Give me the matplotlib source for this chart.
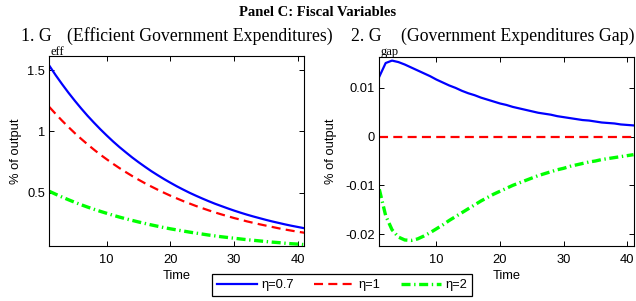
import matplotlib
matplotlib.use("Agg")
import matplotlib.pyplot as plt

plt.rcParams['axes.unicode_minus'] = False
plt.rcParams['lines.scale_dashes'] = False

time = list(range(1, 42))

geff_07 = [1.538, 1.460, 1.387, 1.317, 1.251, 1.188, 1.128, 1.072, 1.018, 0.967,
           0.918, 0.872, 0.829, 0.787, 0.748, 0.711, 0.675, 0.642, 0.610, 0.580,
           0.551, 0.524, 0.498, 0.474, 0.451, 0.429, 0.408, 0.389, 0.370, 0.352,
           0.335, 0.319, 0.304, 0.290, 0.276, 0.263, 0.251, 0.239, 0.228, 0.218, 0.208]
geff_1 = [1.200, 1.143, 1.088, 1.036, 0.986, 0.939, 0.894, 0.851, 0.810, 0.772,
          0.735, 0.700, 0.667, 0.635, 0.605, 0.576, 0.549, 0.523, 0.498, 0.474,
          0.452, 0.430, 0.410, 0.390, 0.372, 0.354, 0.337, 0.321, 0.306, 0.291,
          0.278, 0.264, 0.252, 0.240, 0.229, 0.218, 0.207, 0.197, 0.188, 0.179, 0.171]
geff_2 = [0.510, 0.486, 0.463, 0.441, 0.420, 0.400, 0.381, 0.363, 0.346, 0.330,
          0.314, 0.299, 0.285, 0.272, 0.259, 0.247, 0.235, 0.224, 0.213, 0.203,
          0.194, 0.185, 0.176, 0.168, 0.160, 0.152, 0.145, 0.138, 0.132, 0.126,
          0.120, 0.114, 0.109, 0.104, 0.099, 0.094, 0.090, 0.085, 0.081, 0.078, 0.074]

ggap_07 = [0.0123, 0.0151, 0.0156, 0.0153, 0.0148, 0.0142, 0.0136, 0.0130, 0.0124, 0.0117,
           0.0111, 0.0105, 0.0100, 0.0094, 0.0089, 0.0085, 0.0080, 0.0076, 0.0072, 0.0068,
           0.0065, 0.0061, 0.0058, 0.0055, 0.0052, 0.0049, 0.0047, 0.0045, 0.0042, 0.0040,
           0.0038, 0.0036, 0.0034, 0.0033, 0.0031, 0.0029, 0.0028, 0.0027, 0.0025, 0.0024, 0.0023]
ggap_1 = [0.0] * 41
ggap_2 = [-0.0108, -0.0162, -0.0191, -0.0206, -0.0212, -0.0213, -0.0210, -0.0204, -0.0197, -0.0189,
          -0.0181, -0.0172, -0.0164, -0.0156, -0.0148, -0.0140, -0.0132, -0.0125, -0.0118, -0.0112,
          -0.0106, -0.0100, -0.0095, -0.0090, -0.0085, -0.0080, -0.0076, -0.0072, -0.0068, -0.0065,
          -0.0061, -0.0058, -0.0055, -0.0052, -0.0050, -0.0047, -0.0045, -0.0043, -0.0041, -0.0039, -0.0037]

labels = ['\u03b7=0.7', '\u03b7=1', '\u03b7=2']
xticks = [10, 20, 30, 40]
yticks_left = [0.5, 1, 1.5]
yticks_right = [-0.02, -0.01, 0, 0.01]
yticklabels_left = ['0.5', '1', '1.5']
yticklabels_right = ['-0.02', '-0.01', '0', '0.01']

W, H = 636, 301
fig = plt.figure(figsize=(W / 100, H / 100), dpi=100)

def ax_at(x0, y0, x1, y1):
    return fig.add_axes([x0 / W, 1 - y1 / H, (x1 - x0) / W, (y1 - y0) / H])

axL = ax_at(49.3, 56, 304.3, 246.3)
axR = ax_at(379.3, 56.7, 633.5, 246.3)

sans = 'Liberation Sans'
serif = 'Liberation Serif'
fs = 9.3

styles = [
    dict(color=(0, 0, 1), lw=1.6, ls='-'),
    dict(color=(1, 0, 0), lw=1.6, dashes=(6.5, 3.8)),
    dict(color=(0, 1, 0), lw=2.4, dashes=(6.5, 2.6, 1.0, 2.6)),
]

lines = []
for ax, series, ylp in ((axL, (geff_07, geff_1, geff_2), 4),
                        (axR, (ggap_07, ggap_1, ggap_2), 6)):
    ls_ = []
    for s, st in zip(series, styles):
        l, = ax.plot(time, s, **st)
        ls_.append(l)
    lines = ls_
    ax.set_xlim(1, 41)
    ax.set_xticks(xticks)
    ax.tick_params(direction='in', top=True, right=True, length=3.5, width=0.7,
                   labelsize=fs)
    ax.tick_params(axis='x', pad=5.5)
    ax.tick_params(axis='y', pad=3)
    for sp in ax.spines.values():
        sp.set_linewidth(0.8)
    ax.set_xlabel('Time', fontsize=fs, fontfamily=sans, labelpad=3)
    ax.set_ylabel('% of output', fontsize=fs, fontfamily=sans, labelpad=ylp)

axL.set_ylim(0.06, 1.617)
axL.set_yticks(yticks_left)
axL.set_yticklabels(yticklabels_left)
axR.set_ylim(-0.0225, 0.0164)
axR.set_yticks(yticks_right)
axR.set_yticklabels(yticklabels_right)
for ax in (axL, axR):
    for lab in ax.get_xticklabels() + ax.get_yticklabels():
        lab.set_fontfamily(sans)

fig.text(0.5, 1 - 12 / H, 'Panel C: Fiscal Variables', ha='center', va='center',
         fontsize=10.5, fontweight='bold', fontfamily=serif)

renderer = fig.canvas.get_renderer()

def subtitle(anchor_px, align, pre, sub, post, base_px=41, sub_base_px=55,
             size=12.8, sub_size=9.0, pre_gap_px=-1.0, gap_px=2.0):
    parts = [(pre, size, base_px), (sub, sub_size, sub_base_px), (post, size, base_px)]
    texts = []
    widths = []
    for s, sz, b in parts:
        t = fig.text(0, 1 - b / H, s, ha='left', va='baseline', fontsize=sz, fontfamily=serif)
        widths.append(t.get_window_extent(renderer).width)
        texts.append(t)
    widths[0] += pre_gap_px
    widths[1] += gap_px
    total = sum(widths)
    if align == 'center':
        x = anchor_px - total / 2
    else:
        x = anchor_px - total
    for t, w in zip(texts, widths):
        t.set_x(x / W)
        x += w

subtitle(176.8, 'center', '1. G', 'eff', '(Efficient Government Expenditures)')
subtitle(634.0, 'right', '2. G', 'gap', '(Government Expenditures Gap)')

leg = fig.legend(lines, labels, loc='center', bbox_to_anchor=(342 / W, 1 - 285 / H),
                 ncol=3, frameon=True, fancybox=False, edgecolor='black', framealpha=1,
                 prop={'family': sans, 'size': fs}, handlelength=3.1, handletextpad=0.35,
                 columnspacing=1.55, borderpad=0.35, borderaxespad=0)
leg.get_frame().set_linewidth(0.9)

fig.savefig('out.png', dpi=100)
